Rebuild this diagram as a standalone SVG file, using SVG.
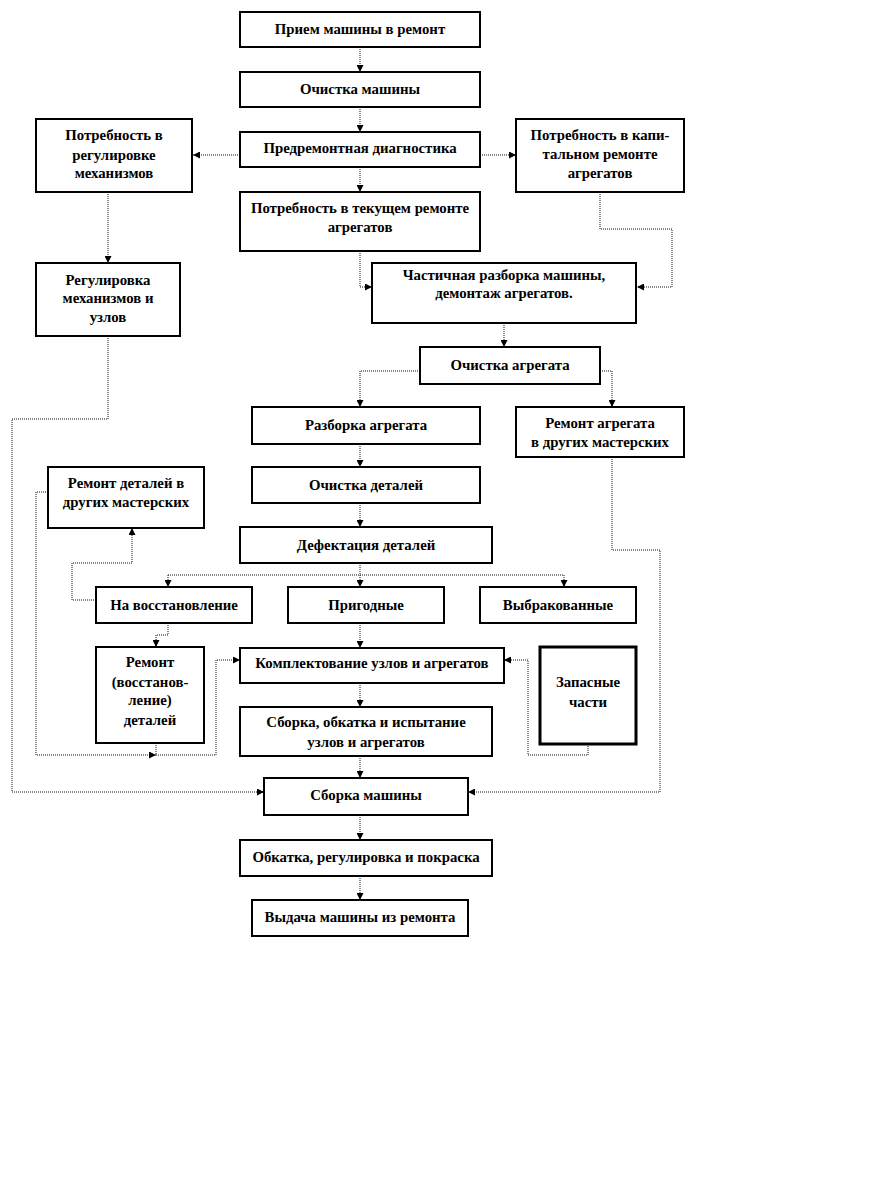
<svg xmlns="http://www.w3.org/2000/svg" width="885" height="1185" viewBox="0 0 885 1185">
<style>
.b{fill:#fff;stroke:#000;stroke-width:2}
.bt{fill:#fff;stroke:#000;stroke-width:3}
.t{font-family:"Liberation Serif","Times New Roman",serif;font-weight:bold;font-size:14.8px;text-anchor:middle;fill:#000}
.c{fill:none;stroke:#111;stroke-width:1;stroke-dasharray:1 1;marker-end:url(#a)}
.n{fill:none;stroke:#111;stroke-width:1;stroke-dasharray:1 1}
</style>
<defs>
<marker id="a" viewBox="0 0 8 8" refX="8" refY="4" markerWidth="7" markerHeight="7" markerUnits="userSpaceOnUse" orient="auto">
<path d="M0,0 L8,4 L0,8 z" fill="#000"/>
</marker>
</defs>
<rect width="885" height="1185" fill="#fff"/>
<g id="connectors">
<path class="c" d="M360,47 V72"/>
<path class="c" d="M360,107 V132"/>
<path class="c" d="M360,167 V192"/>
<path class="c" d="M240,155 H193"/>
<path class="c" d="M480,155 H516"/>
<path class="c" d="M108,192 V263"/>
<path class="c" d="M360,251 V287 H372"/>
<path class="c" d="M600,192 V229 H672 V287 H637"/>
<path class="c" d="M504,323 V347"/>
<path class="c" d="M420,371 H360 V407"/>
<path class="c" d="M600,371 H612 V407"/>
<path class="c" d="M360,444 V467"/>
<path class="c" d="M360,503 V527"/>
<path class="n" d="M360,563 V575"/>
<path class="n" d="M168,575 H564"/>
<path class="c" d="M168,575 V587"/>
<path class="c" d="M360,575 V587"/>
<path class="c" d="M564,575 V587"/>
<path class="c" d="M96,600 H72 V563 H132 V528"/>
<path class="c" d="M168,623 V635 H156 V647"/>
<path class="c" d="M108,336 V419 H12 V792 H264"/>
<path class="c" d="M48,492 H36 V755 H156"/>
<path class="c" d="M156,743 V755 H216 V660 H240"/>
<path class="c" d="M360,623 V648"/>
<path class="c" d="M360,683 V707"/>
<path class="c" d="M360,756 V778"/>
<path class="c" d="M588,744 V755 H528 V660 H504"/>
<path class="c" d="M612,457 V550 H660 V792 H468"/>
<path class="c" d="M360,815 V840"/>
<path class="c" d="M360,876 V900"/>
</g>
<g id="n1"><rect class="b" x="240" y="12" width="240" height="35"/><text class="t" x="360" y="34">Прием машины в ремонт</text></g>
<g id="n2"><rect class="b" x="240" y="72" width="240" height="35"/><text class="t" x="360" y="94">Очистка машины</text></g>
<g id="n3"><rect class="b" x="240" y="132" width="240" height="35"/><text class="t" x="360" y="153">Предремонтная диагностика</text></g>
<g id="n4"><rect class="b" x="36" y="119" width="156" height="73"/><text class="t" x="114" y="140">Потребность в</text><text class="t" x="114" y="160">регулировке</text><text class="t" x="114" y="178">механизмов</text></g>
<g id="n5"><rect class="b" x="516" y="119" width="168" height="73"/><text class="t" x="600" y="140">Потребность в капи-</text><text class="t" x="600" y="159">тальном ремонте</text><text class="t" x="600" y="178">агрегатов</text></g>
<g id="n6"><rect class="b" x="240" y="192" width="240" height="59"/><text class="t" x="360" y="213">Потребность в текущем ремонте</text><text class="t" x="360" y="232">агрегатов</text></g>
<g id="n7"><rect class="b" x="36" y="263" width="144" height="73"/><text class="t" x="108" y="285">Регулировка</text><text class="t" x="108" y="303">механизмов и</text><text class="t" x="108" y="322">узлов</text></g>
<g id="n8"><rect class="b" x="372" y="263" width="264" height="60"/><text class="t" x="504" y="280">Частичная разборка машины,</text><text class="t" x="504" y="298">демонтаж агрегатов.</text></g>
<g id="n9"><rect class="b" x="420" y="347" width="180" height="37"/><text class="t" x="510" y="370">Очистка агрегата</text></g>
<g id="n10"><rect class="b" x="252" y="407" width="228" height="37"/><text class="t" x="366" y="430">Разборка агрегата</text></g>
<g id="n11"><rect class="b" x="516" y="407" width="168" height="50"/><text class="t" x="600" y="428">Ремонт агрегата</text><text class="t" x="600" y="447">в других мастерских</text></g>
<g id="n12"><rect class="b" x="48" y="467" width="156" height="61"/><text class="t" x="126" y="488">Ремонт деталей в</text><text class="t" x="126" y="507">других мастерских</text></g>
<g id="n13"><rect class="b" x="252" y="467" width="228" height="36"/><text class="t" x="366" y="490">Очистка деталей</text></g>
<g id="n14"><rect class="b" x="240" y="527" width="252" height="36"/><text class="t" x="366" y="550">Дефектация деталей</text></g>
<g id="n15"><rect class="b" x="96" y="587" width="156" height="36"/><text class="t" x="174" y="610">На восстановление</text></g>
<g id="n16"><rect class="b" x="288" y="587" width="156" height="36"/><text class="t" x="366" y="610">Пригодные</text></g>
<g id="n17"><rect class="b" x="480" y="587" width="156" height="36"/><text class="t" x="558" y="610">Выбракованные</text></g>
<g id="n18"><rect class="b" x="96" y="647" width="108" height="96"/><text class="t" x="150" y="667">Ремонт</text><text class="t" x="150" y="687">(восстанов-</text><text class="t" x="150" y="705">ление)</text><text class="t" x="150" y="725">деталей</text></g>
<g id="n19"><rect class="b" x="240" y="648" width="264" height="35"/><text class="t" x="372" y="668">Комплектование узлов и агрегатов</text></g>
<g id="n20"><rect class="bt" x="540" y="647" width="96" height="97"/><text class="t" x="588" y="687">Запасные</text><text class="t" x="588" y="707">части</text></g>
<g id="n21"><rect class="b" x="240" y="707" width="252" height="49"/><text class="t" x="366" y="727">Сборка, обкатка и испытание</text><text class="t" x="366" y="747">узлов и агрегатов</text></g>
<g id="n22"><rect class="b" x="264" y="778" width="204" height="37"/><text class="t" x="366" y="800">Сборка машины</text></g>
<g id="n23"><rect class="b" x="240" y="840" width="252" height="36"/><text class="t" x="366" y="862">Обкатка, регулировка и покраска</text></g>
<g id="n24"><rect class="b" x="252" y="900" width="216" height="36"/><text class="t" x="360" y="922">Выдача машины из ремонта</text></g>
</svg>
